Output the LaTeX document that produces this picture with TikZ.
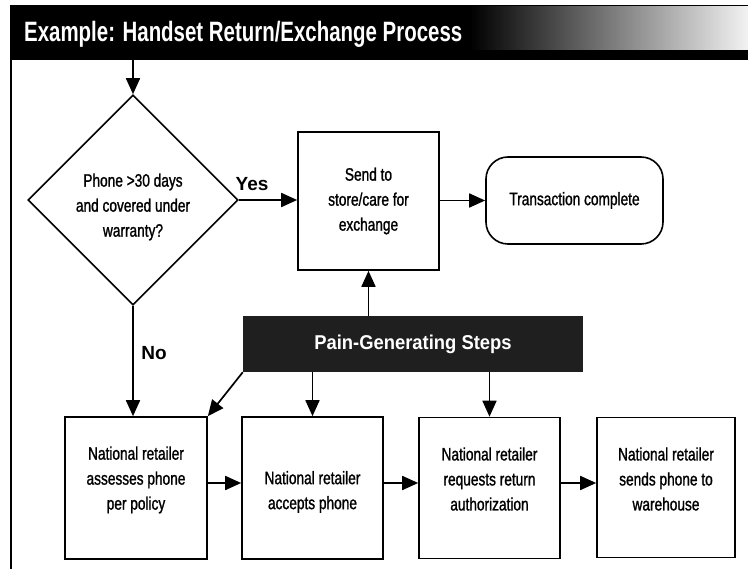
\documentclass[tikz,border=0pt]{standalone}
\usepackage{fontspec}
\setmainfont{Liberation Sans}
\newfontfamily\bodyf[FakeStretch=0.76,FakeBold=1.2]{Liberation Sans}
\newfontfamily\titlef[FakeStretch=0.73]{Liberation Sans}
\newfontfamily\painf[FakeStretch=0.92]{Liberation Sans}
\usetikzlibrary{arrows.meta,shapes.geometric,calc}
\tikzset{
  flow/.style={line width=1.7pt, -{Triangle[length=16pt,width=14pt]}},
  stepbox/.style={draw, line width=1.6pt, rectangle, inner sep=0pt, fill=white},
  btxt/.style={font=\bodyf\fontsize{18}{25}\selectfont, align=center, inner sep=0pt},
  lbl/.style={font=\bfseries\fontsize{19}{20}\selectfont, inner sep=0pt},
}
\begin{document}
\begin{tikzpicture}[x=1pt,y=-1pt]
\useasboundingbox (0,0) rectangle (748,569);
\fill[white] (0,0) rectangle (748,569);
% title bar
\fill[black] (10,5) rectangle (748,60);
\shade[left color=black, middle color=black!60, right color=gray!10] (470,7) rectangle (748,50);
\node[font=\titlef\bfseries\fontsize{28}{30}\selectfont, text=white, anchor=base west, inner sep=0pt] (title) at (24,42) {Example: Handset Return/Exchange Process};
% left border
\draw[line width=1.4pt] (11,60) -- (11,569);
% nodes
\node[draw, diamond, line width=1.6pt, minimum width=210pt, minimum height=210pt, inner sep=0pt, fill=white] (d) at (133,200) {};
\node[btxt] (dt) at (133,207) {Phone >30 days\\and covered under\\warranty?};
\node[stepbox, minimum width=141pt, minimum height=138pt, btxt] (send) at (368.5,201) {Send to\\store/care for\\exchange};
\node[draw, line width=1.6pt, rounded corners=22pt, minimum width=177pt, minimum height=87pt, btxt] (trans) at (574.5,200.5) {Transaction complete};
\node[fill=black!88, minimum width=340pt, minimum height=56pt, inner sep=0pt, text=white, font=\painf\bfseries\fontsize{20}{22}\selectfont] (pain) at (413,344) {Pain-Generating Steps};
\node[stepbox, minimum width=142pt, minimum height=142pt] (b1) at (136,488) {};
\node[stepbox, minimum width=141pt, minimum height=142pt] (b2) at (312.5,488) {};
\node[stepbox, minimum width=141pt, minimum height=141pt] (b3) at (489.5,488) {};
\node[stepbox, minimum width=138pt, minimum height=140pt] (b4) at (666,487.5) {};
\node[btxt] (b1t) at (136,480) {National retailer\\assesses phone\\per policy};
\node[btxt] (b2t) at (312.5,492) {National retailer\\accepts phone};
\node[btxt] (b3t) at (489.5,479) {National retailer\\requests return\\authorization};
\node[btxt] (b4t) at (666,479) {National retailer\\sends phone to\\warehouse};
\node[lbl] (yes) at (252,184) {Yes};
\node[lbl] (no) at (154,353) {No};
% connectors
\coordinate (start) at (133,60);
\draw[flow] (start) -- (d.north);
\draw[flow] (d.east) -- (d.east -| send.west);
\draw[flow] (send.east |- trans.west) -- (trans.west);
\draw[flow] (send.south |- pain.north) -- (send.south);
\draw[flow] (d.south) -- (d.south |- b1.north);
\draw[flow] (pain.south west) -- (b1.north east);
\draw[flow] (b2.north |- pain.south) -- (b2.north);
\draw[flow] (b3.north |- pain.south) -- (b3.north);
\draw[flow] ([yshift=5pt]b1.east) -- ([yshift=5pt]b1.east -| b2.west);
\draw[flow] ([yshift=5pt]b2.east) -- ([yshift=5pt]b2.east -| b3.west);
\draw[flow] ([yshift=5pt]b3.east) -- ([yshift=5pt]b3.east -| b4.west);
\end{tikzpicture}
\end{document}
